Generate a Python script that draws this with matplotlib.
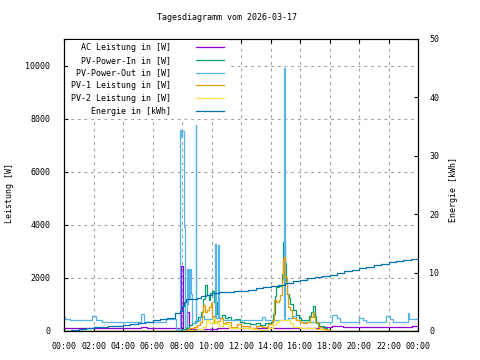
import matplotlib
matplotlib.use("Agg")
import matplotlib.pyplot as plt

# Zeitachse in Stunden, Werte in W bzw. kWh
x_ticks = [0, 2, 4, 6, 8, 10, 12, 14, 16, 18, 20, 22, 24]
x_labels = ["00:00", "02:00", "04:00", "06:00", "08:00", "10:00", "12:00",
            "14:00", "16:00", "18:00", "20:00", "22:00", "00:00"]
y_ticks = [0, 2000, 4000, 6000, 8000, 10000]
y2_ticks = [0, 10, 20, 30, 40, 50]

# AC Leistung
t_ac = [0.0, 1.2, 1.7, 5.2, 5.6, 7.8, 7.95, 8.1, 8.35, 8.5, 10.4, 11.5,
        17.3, 18.2, 18.9, 23.6, 24.0]
ac = [130, 110, 130, 160, 120, 130, 2440, 90, 700, 80, 130, 100,
      150, 190, 150, 170, 170]

# PV-Power-In
t_in = [0.0, 7.6, 8.0, 8.3, 8.5, 8.7, 8.9, 9.1, 9.3, 9.45, 9.55, 9.7, 9.8,
        9.9, 10.05, 10.15, 10.35, 10.5, 10.7, 10.9, 11.1, 11.3, 11.6, 11.9,
        12.2, 12.6, 13.0, 13.3, 13.6, 14.0, 14.2, 14.3, 14.4, 14.55, 14.75,
        14.85, 14.95, 15.05, 15.15, 15.25, 15.35, 15.5, 15.7, 15.9, 16.1,
        16.4, 16.6, 16.75, 16.85, 17.0, 17.1, 17.3, 17.6, 17.8, 18.0, 24.0]
p_in = [0, 30, 60, 120, 230, 300, 380, 520, 700, 1200, 1750, 1350, 1150,
        1450, 1520, 1100, 650, 500, 620, 480, 520, 400, 450, 350,
        300, 250, 300, 230, 300, 350, 650, 1300, 1650, 1700, 2160,
        3350, 2550, 1900, 1400, 1250, 1000, 780, 600, 480, 430,
        400, 550, 700, 950, 550, 300, 200, 100, 40, 0, 0]

# PV-Power-Out
t_out = [0.0, 0.1, 0.4, 1.9, 2.2, 2.6, 5.2, 5.4, 6.9, 7.6, 7.86, 7.95, 8.0,
         8.12, 8.18, 8.33, 8.4, 8.43, 8.5, 8.56, 8.62, 8.66, 8.93, 8.98,
         9.2, 9.5, 10.0, 10.22, 10.3, 10.44, 10.5, 10.8, 11.5, 12.5, 13.3,
         13.45, 13.6, 14.92, 14.97, 15.2, 15.5, 15.7, 16.0, 18.2, 18.5, 18.7,
         20.0, 20.3, 20.5, 21.8, 22.1, 22.3, 23.3, 23.4, 24.0]
p_out = [525, 450, 410, 560, 410, 350, 640, 350, 450, 30, 7560, 7300, 7540,
         3900, 150, 2350, 1000, 2350, 1200, 2350, 1400, 300, 7760, 400,
         550, 450, 500, 3290, 500, 3225, 475, 420, 400, 400, 410,
         540, 420, 9900, 420, 475, 560, 420, 350, 600, 490, 350,
         500, 410, 350, 560, 450, 350, 675, 470, 470]

# PV-1 Leistung
t_pv1 = [0.0, 8.3, 8.5, 8.8, 9.0, 9.2, 9.35, 9.45, 9.55, 9.7, 9.85, 9.95,
         10.05, 10.2, 10.4, 10.6, 10.8, 11.0, 11.3, 11.7, 12.0, 12.6, 13.0,
         13.4, 13.8, 14.1, 14.25, 14.4, 14.55, 14.65, 14.75, 14.85, 14.92,
         15.0, 15.1, 15.2, 15.3, 15.45, 15.7, 16.0, 16.2, 16.5, 16.7, 16.85,
         16.95, 17.05, 17.2, 17.5, 17.8, 18.0, 24.0]
pv1 = [0, 40, 100, 160, 230, 350, 720, 980, 720, 800, 910, 1050,
       560, 290, 380, 475, 300, 350, 160, 250, 200, 100, 200,
       150, 250, 410, 1160, 1100, 1150, 1350, 1910, 2700, 2800,
       2040, 1410, 910, 790, 475, 410, 350, 290, 350, 540, 720,
       540, 350, 160, 80, 20, 0, 0]

# PV-2 Leistung
t_pv2 = [0.0, 8.5, 9.0, 9.4, 9.6, 9.8, 10.0, 10.1, 10.25, 10.5, 10.8, 11.2,
         11.8, 12.2, 12.8, 13.3, 13.8, 14.2, 14.4, 14.6, 15.3, 15.5, 16.0,
         16.5, 17.0, 17.3, 17.6, 24.0]
pv2 = [0, 20, 80, 160, 410, 300, 350, 475, 300, 200, 250, 100,
       130, 100, 80, 40, 120, 225, 350, 410, 300, 160, 120,
       100, 80, 60, 0, 0]

# Energie
t_e = [0.0, 0.5, 1.0, 1.5, 2.0, 2.5, 3.0, 3.5, 4.0, 4.5, 5.0, 5.5, 6.0, 6.5,
       7.0, 7.5, 7.85, 8.0, 8.15, 8.3, 8.6, 9.0, 9.3, 9.6, 10.0, 10.5, 11.0,
       11.5, 12.0, 12.5, 13.0, 13.5, 14.0, 14.5, 15.0, 15.5, 16.0, 16.5,
       17.0, 17.5, 18.0, 18.5, 19.0, 19.5, 20.0, 20.5, 21.0, 21.5, 22.0,
       22.5, 23.0, 23.5, 24.0]
energie = [0.0, 0.15, 0.3, 0.45, 0.6, 0.7, 0.8, 0.9, 1.0, 1.15, 1.3, 1.5,
           1.8, 2.0, 2.3, 3.0, 3.5, 4.3, 4.9, 5.4, 5.5, 5.7, 6.0, 6.2, 6.5,
           6.6, 6.7, 6.8, 6.9, 7.1, 7.3, 7.5, 7.7, 7.9, 8.2, 8.5, 8.8, 9.0,
           9.2, 9.4, 9.6, 9.9, 10.2, 10.5, 10.8, 11.0, 11.3, 11.5, 11.8,
           12.0, 12.2, 12.4, 12.6]

font = "DejaVu Sans Mono"
fs = 6
plt.rcParams["font.family"] = font

fig = plt.figure(figsize=(4.8, 3.6), dpi=100)
ax = fig.add_axes([64 / 480, 1 - 331 / 360, 354 / 480, 292 / 360])
ax2 = ax.twinx()

lw = 0.9
l1, = ax.plot(t_ac, ac, drawstyle="steps-post", color="#9400d3", lw=lw, label="AC Leistung in [W]")
l2, = ax.plot(t_in, p_in, drawstyle="steps-post", color="#009e73", lw=lw, label="PV-Power-In in [W]")
l3, = ax.plot(t_out, p_out, drawstyle="steps-post", color="#56b4e9", lw=lw, label="PV-Power-Out in [W]")
l4, = ax.plot(t_pv1, pv1, drawstyle="steps-post", color="#e69f00", lw=lw, label="PV-1 Leistung in [W]")
l5, = ax.plot(t_pv2, pv2, drawstyle="steps-post", color="#f0e442", lw=lw, label="PV-2 Leistung in [W]")
l6, = ax2.plot(t_e, energie, drawstyle="steps-post", color="#0072b2", lw=lw, label="Energie in [kWh]")

ax.set_xlim(0, 24)
ax.set_ylim(0, 11000)
ax2.set_ylim(0, 50)
ax.set_xticks(x_ticks)
ax.set_xticklabels(x_labels)
ax.set_yticks(y_ticks)
ax2.set_yticks(y2_ticks)
ax.grid(True, color="#a0a0a0", linestyle=(0, (2.5, 3.5)), lw=0.8)

ax.tick_params(axis="both", direction="in", length=3, width=0.8, labelsize=fs,
               top=True, pad=8)
ax.tick_params(axis="y", pad=10)
ax2.tick_params(axis="y", direction="in", length=3, width=0.8, labelsize=fs, pad=8)
for a in (ax, ax2):
    for s in a.spines.values():
        s.set_linewidth(0.8)

fig.text(227 / 480, 1 - 18 / 360, "Tagesdiagramm vom 2026-03-17", fontsize=fs,
         ha="center", va="center")
fig.text(10 / 480, 1 - 193 / 360, "Leistung [W]", fontsize=fs, rotation=90,
         ha="center", va="center")
fig.text(453 / 480, 1 - 190 / 360, "Energie [kWh]", fontsize=fs, rotation=90,
         ha="center", va="center")

leg = ax2.legend(handles=[l1, l2, l3, l4, l5, l6], loc="upper right",
                 bbox_to_anchor=(227.5 / 480, 1 - 39.5 / 360),
                 bbox_transform=fig.transFigure,
                 frameon=True, fancybox=False, facecolor="white",
                 edgecolor="none", framealpha=1, markerfirst=False,
                 fontsize=fs, borderpad=0.4, borderaxespad=0,
                 handlelength=3.4, handletextpad=3.0, labelspacing=0.46)

fig.savefig("out.png", dpi=100)
